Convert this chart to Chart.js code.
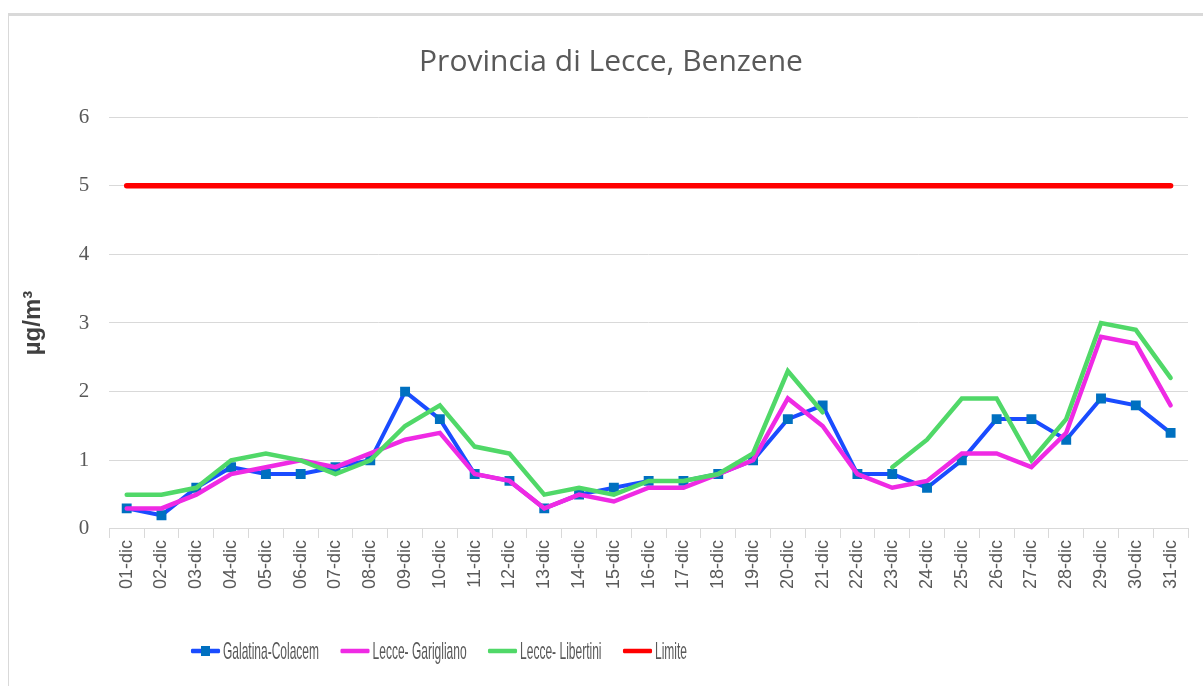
<!DOCTYPE html>
<html>
<head>
<meta charset="utf-8">
<script src="https://cdn.jsdelivr.net/npm/chart.js@4.4.0/dist/chart.umd.min.js"></script>
<style>
  html, body { margin: 0; padding: 0; background: #fff; }
  #wrap { position: relative; width: 1203px; height: 686px; overflow: hidden; }
  #frame { position: absolute; left: 8px; top: 13px; right: 0; bottom: 0;
           border-top: 3px solid #d9d9d9; border-left: 1px solid #d9d9d9; }
  canvas#chart { position: absolute; left: 0; top: 0; }
  #legend { position: absolute; left: 190px; top: 636px; height: 30px;
            display: flex; align-items: center; white-space: nowrap;
            transform: scaleX(0.5); transform-origin: 0 50%;
            font-family: 'Liberation Sans', Arial, sans-serif; font-size: 24px; color: #595959; }
  #legend .item { display: flex; align-items: center; margin-right: 41px; }
  #legend canvas { display: block; margin-right: 4px; }
</style>
</head>
<body>
<div id="wrap">
  <div id="frame"></div>
  <canvas id="chart" width="1203" height="686"></canvas>
  <div id="legend"></div>
</div>
<script>
const days = ['01-dic','02-dic','03-dic','04-dic','05-dic','06-dic','07-dic','08-dic','09-dic','10-dic',
  '11-dic','12-dic','13-dic','14-dic','15-dic','16-dic','17-dic','18-dic','19-dic','20-dic',
  '21-dic','22-dic','23-dic','24-dic','25-dic','26-dic','27-dic','28-dic','29-dic','30-dic','31-dic'];

const galatina = [0.3,0.2,0.6,0.9,0.8,0.8,0.9,1.0,2.0,1.6,0.8,0.7,0.3,0.5,0.6,0.7,0.7,0.8,1.0,1.6,
  1.8,0.8,0.8,0.6,1.0,1.6,1.6,1.3,1.9,1.8,1.4];
const garigliano = [0.3,0.3,0.5,0.8,0.9,1.0,0.9,1.1,1.3,1.4,0.8,0.7,0.3,0.5,0.4,0.6,0.6,0.8,1.0,1.9,
  1.5,0.8,0.6,0.7,1.1,1.1,0.9,1.4,2.8,2.7,1.8];
const libertini = [0.5,0.5,0.6,1.0,1.1,1.0,0.8,1.0,1.5,1.8,1.2,1.1,0.5,0.6,0.5,0.7,0.7,0.8,1.1,2.3,
  1.7,null,0.9,1.3,1.9,1.9,1.0,1.6,3.0,2.9,2.2];
const limite = days.map(() => 5);

const yTicks = [0,1,2,3,4,5,6];

const GREY = '#595959';

const series = [
  { label: 'Galatina-Colacem', data: galatina, color: '#1a4cff', order: 3, marker: '#0070c0', width: 4 },
  { label: 'Lecce- Garigliano', data: garigliano, color: '#ef2ae4', order: 2, width: 4.5 },
  { label: 'Lecce- Libertini', data: libertini, color: '#50d868', order: 1, width: 4.5 },
  { label: 'Limite', data: limite, color: '#ff0000', order: 0, width: 5.5 }
];

// legend (html, squeezed horizontally to match the narrow font of the original)
function legendIcon(color, marker) {
  const c = document.createElement('canvas');
  c.width = 62; c.height = 12;
  const g = c.getContext('2d');
  g.strokeStyle = color; g.lineWidth = 4.5; g.lineCap = 'round';
  g.beginPath(); g.moveTo(4, 6); g.lineTo(58, 6); g.stroke();
  if (marker) { g.fillStyle = marker; g.fillRect(22, 1, 18, 10); }
  return c;
}
const legendEl = document.getElementById('legend');
series.forEach(s => {
  const item = document.createElement('div');
  item.className = 'item';
  item.appendChild(legendIcon(s.color, s.marker));
  const t = document.createElement('span');
  t.textContent = s.label;
  item.appendChild(t);
  legendEl.appendChild(item);
});

new Chart(document.getElementById('chart'), {
  type: 'line',
  data: {
    labels: days,
    datasets: series.map(s => ({
      label: s.label,
      data: s.data,
      order: s.order,
      borderColor: s.color,
      backgroundColor: s.color,
      borderWidth: s.width,
      tension: 0,
      spanGaps: false,
      borderCapStyle: 'round',
      pointStyle: s.marker ? 'rect' : false,
      pointRadius: s.marker ? 7 : 0,
      pointBackgroundColor: s.marker || s.color,
      pointBorderWidth: 0
    }))
  },
  options: {
    responsive: false,
    animation: false,
    // wide left padding pushes the centred title right like the original; the axis title
    // pulls itself back with a negative padding
    layout: { padding: { left: 34, right: 15, top: 0, bottom: 95 } },
    plugins: {
      tooltip: { enabled: false },
      legend: { display: false },
      title: {
        display: true,
        text: 'Provincia di Lecce, Benzene',
        color: GREY,
        font: { family: "'Open Sans', 'Liberation Sans', sans-serif", size: 30, weight: 'normal' },
        padding: { top: 44, bottom: 37 }
      }
    },
    scales: {
      x: {
        offset: true,
        grid: { display: true, drawOnChartArea: false, offset: true, tickLength: 9, color: '#d9d9d9' },
        border: { display: true, color: '#d9d9d9' },
        ticks: {
          color: GREY, minRotation: 90, maxRotation: 90, autoSkip: false, padding: 2,
          font: { family: "'Liberation Sans', sans-serif", size: 18 }
        }
      },
      y: {
        min: 0, max: 6,
        afterBuildTicks: axis => { axis.ticks = yTicks.map(v => ({ value: v })); },
        grid: { color: '#d9d9d9', drawTicks: false },
        border: { display: false },
        ticks: {
          color: GREY, padding: 20,
          font: { family: "'Liberation Serif', 'Liberation Sans', sans-serif", size: 21 }
        },
        title: {
          display: true, text: 'µg/m³', color: '#404040',
          font: { family: "'Liberation Sans', sans-serif", size: 24, weight: 'bold' },
          padding: { top: -15, bottom: 11 }
        }
      }
    }
  }
});
</script>
</body>
</html>
